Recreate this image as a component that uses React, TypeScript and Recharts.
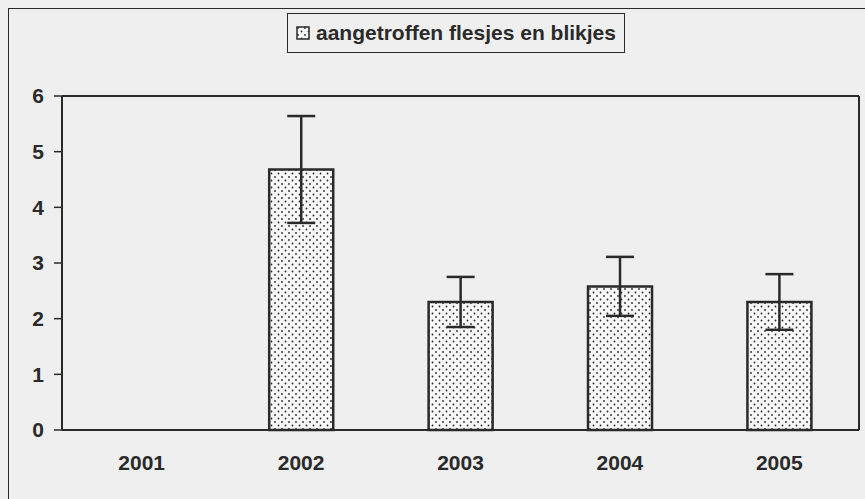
import React from 'react';
import {
  BarChart,
  Bar,
  XAxis,
  YAxis,
  ErrorBar,
} from 'recharts';

// Chart data
const YEARS = ['2001', '2002', '2003', '2004', '2005'];
const FOUND = [null, 4.68, 2.3, 2.58, 2.3];
const FOUND_ERR = [null, 0.96, 0.45, 0.53, 0.5];
const Y_TICKS = [0, 1, 2, 3, 4, 5, 6];
const SERIES_NAME = 'aangetroffen flesjes en blikjes';

const INK = '#2a2a2a';
const PAPER = '#efefef';
const FONT = '"Liberation Sans", Arial, sans-serif';

const chartData = YEARS.map((year, i) => ({
  year,
  found: FOUND[i],
  err: FOUND_ERR[i],
}));

// Legend box with the dotted swatch (kept outside the chart so it doesn't push the plot down)
const LegendBox = () => (
  <div
    style={{
      position: 'absolute',
      left: 287,
      top: 13,
      display: 'inline-flex',
      alignItems: 'center',
      border: `1.5px solid ${INK}`,
      padding: '6px 8px 6px 8px',
      background: PAPER,
      fontFamily: FONT,
      fontWeight: 'bold',
      fontSize: 21,
      color: INK,
      lineHeight: '26px',
      zIndex: 2,
    }}
  >
    <svg width={14} height={14} style={{ marginRight: 6 }}>
      <rect x={1} y={1} width={12} height={12} fill="url(#dots)" stroke={INK} strokeWidth={1.5} />
    </svg>
    {SERIES_NAME}
  </div>
);

export default function App() {
  return (
    <div
      style={{
        position: 'fixed',
        left: 0,
        top: 0,
        width: 865,
        height: 499,
        background: PAPER,
        overflow: 'hidden',
      }}
    >
      {/* frame of the scanned figure */}
      <div
        style={{
          position: 'absolute',
          left: 8,
          top: 8,
          width: 900,
          height: 600,
          borderLeft: `1.5px solid ${INK}`,
          borderTop: `1.5px solid ${INK}`,
        }}
      />
      <BarChart
        width={865}
        height={499}
        data={chartData}
        margin={{ top: 95, right: 5, bottom: 39, left: 12 }}
        barCategoryGap="30%"
        style={{ position: 'absolute', left: 0, top: 0 }}
      >
        <defs>
          <pattern id="dots" width={7} height={7} patternUnits="userSpaceOnUse">
            <rect width={7} height={7} fill="#f7f7f7" />
            <circle cx={2} cy={2} r={0.9} fill={INK} />
            <circle cx={5.5} cy={5.5} r={0.9} fill={INK} />
          </pattern>
        </defs>
        <XAxis
          dataKey="year"
          tickLine={false}
          tickSize={0}
          tickMargin={25}
          height={30}
          axisLine={{ stroke: INK, strokeWidth: 2 }}
          tick={{ fill: INK, fontFamily: FONT, fontWeight: 'bold', fontSize: 21 }}
        />
        <XAxis
          xAxisId="top"
          orientation="top"
          dataKey="year"
          height={1}
          tick={false}
          tickLine={false}
          axisLine={{ stroke: INK, strokeWidth: 2 }}
        />
        <YAxis
          domain={[0, 6]}
          ticks={Y_TICKS}
          width={50}
          tickSize={8}
          tickMargin={10}
          interval={0}
          axisLine={{ stroke: INK, strokeWidth: 2 }}
          tickLine={{ stroke: INK, strokeWidth: 1.5 }}
          tick={{ fill: INK, fontFamily: FONT, fontWeight: 'bold', fontSize: 21 }}
        />
        <YAxis
          yAxisId="right"
          orientation="right"
          domain={[0, 6]}
          width={1}
          tick={false}
          tickLine={false}
          axisLine={{ stroke: INK, strokeWidth: 2 }}
        />
        <Bar
          dataKey="found"
          name={SERIES_NAME}
          fill="url(#dots)"
          stroke={INK}
          strokeWidth={2.5}
          isAnimationActive={false}
        >
          <ErrorBar dataKey="err" width={14} stroke={INK} strokeWidth={2.5} />
        </Bar>
        {/* invisible series so the top and right frame axes get drawn */}
        <Bar
          xAxisId="top"
          yAxisId="right"
          dataKey="found"
          fill="none"
          stroke="none"
          legendType="none"
          isAnimationActive={false}
        />
      </BarChart>
      <LegendBox />
    </div>
  );
}
